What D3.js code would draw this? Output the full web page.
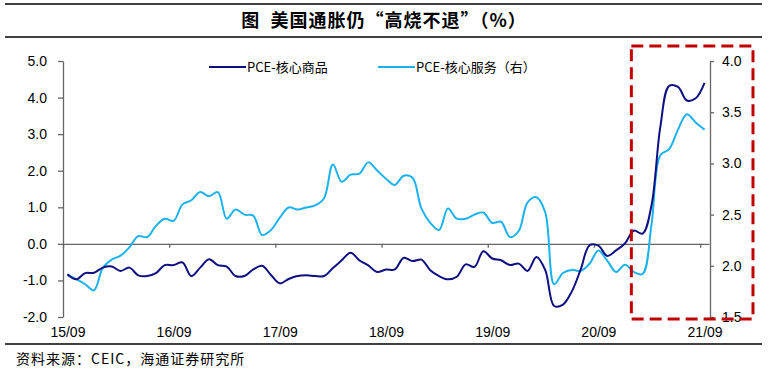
<!DOCTYPE html>
<html>
<head>
<meta charset="utf-8">
<script src="https://cdn.jsdelivr.net/npm/d3@7"></script>
<style>
  body { margin: 0; background: #fff; }
  svg { display: block; }
</style>
</head>
<body>
<div id="chart"></div>
<script>
const width = 783;
const height = 373;

// monthly data 2015/09 - 2021/09
const months = d3.timeMonth.range(new Date(2015, 8, 1), new Date(2021, 9, 1));
const tickLabels = ["15/09", "16/09", "17/09", "18/09", "19/09", "20/09", "21/09"];
const seriesNames = ["PCE-核心商品", "PCE-核心服务（右）"];
const leftTicks = [-2, -1, 0, 1, 2, 3, 4, 5];
const rightTicks = [1.5, 2.0, 2.5, 3.0, 3.5, 4.0];

// PCE core goods, yoy % (left axis)
const goods = [
  -0.83, -0.97, -0.80, -0.79, -0.65, -0.62, -0.74, -0.65, -0.86, -0.88,
  -0.80, -0.58, -0.58, -0.51, -0.88, -0.65, -0.42, -0.58, -0.62, -0.88,
  -0.88, -0.70, -0.60, -0.85, -1.08, -0.96, -0.88, -0.86, -0.88, -0.88,
  -0.66, -0.45, -0.24, -0.45, -0.59, -0.77, -0.70, -0.70, -0.38, -0.47,
  -0.43, -0.72, -0.88, -0.97, -0.90, -0.56, -0.63, -0.20, -0.40, -0.45,
  -0.58, -0.54, -0.74, -0.36, -0.72, -1.70, -1.66, -1.30, -0.70, -0.04,
  -0.05, -0.33, -0.18, 0.01, 0.36, 0.28, 1.05, 3.20, 4.32, 4.29,
  3.92, 3.98, 4.40
];

// PCE core services, yoy % (right axis)
const services = [
  1.91, 1.87, 1.82, 1.76, 1.98, 2.06, 2.10, 2.18, 2.29, 2.28,
  2.39, 2.46, 2.44, 2.60, 2.64, 2.72, 2.68, 2.72, 2.46, 2.55,
  2.50, 2.49, 2.30, 2.35, 2.47, 2.57, 2.55, 2.57, 2.59, 2.66,
  2.99, 2.82, 2.89, 2.90, 3.01, 2.93, 2.85, 2.79, 2.88, 2.86,
  2.56, 2.42, 2.35, 2.56, 2.46, 2.46, 2.50, 2.52, 2.42, 2.43,
  2.28, 2.34, 2.62, 2.67, 2.52, 1.82, 1.93, 1.96, 1.95, 2.02,
  2.15, 2.05, 1.94, 2.01, 1.94, 1.92, 2.40, 3.08, 3.14, 3.33,
  3.48, 3.40, 3.33
];

const darkBlue = "#0f0f82";
const lightBlue = "#1cb2ee";
const axisColor = "#666";
const numFont = "'Liberation Sans', Arial, sans-serif";
const cjkFont = "'Noto Sans CJK SC', sans-serif";

const plot = { left: 63, right: 709, top: 61, bottom: 317 };

const x = d3.scaleLinear().domain([0, months.length]).range([plot.left, plot.right]);
const yL = d3.scaleLinear().domain([-2, 5]).range([plot.bottom, plot.top]);
const yR = d3.scaleLinear().domain([1.5, 4]).range([plot.bottom, plot.top]);

const svg = d3.select("#chart").append("svg")
  .attr("width", width)
  .attr("height", height);

// title and rules
svg.append("line").attr("x1", 5).attr("x2", 762).attr("y1", 4).attr("y2", 4)
  .attr("stroke", "#000").attr("stroke-width", 1.5);
svg.append("line").attr("x1", 5).attr("x2", 762).attr("y1", 37).attr("y2", 37)
  .attr("stroke", "#000").attr("stroke-width", 1.5);
svg.append("text")
  .attr("x", 384).attr("y", 27)
  .attr("text-anchor", "middle")
  .style("font-family", cjkFont)
  .style("font-weight", "bold")
  .style("font-size", "18px")
  .style("letter-spacing", "1px")
  .style("white-space", "pre")
  .text("图  美国通胀仍“高烧不退”（%）");

// left axis
const gL = svg.append("g")
  .attr("transform", "translate(" + plot.left + ",0)")
  .call(d3.axisLeft(yL).tickValues(leftTicks).tickFormat(d => d.toFixed(1))
    .tickSize(5).tickSizeOuter(0).tickPadding(11));

// right axis
const gR = svg.append("g")
  .attr("transform", "translate(" + (plot.right + 1) + ",0)")
  .call(d3.axisRight(yR).tickValues(rightTicks).tickFormat(d => d.toFixed(1))
    .tickSize(4).tickSizeOuter(0).tickPadding(8));

// zero line with year ticks
const gZ = svg.append("g")
  .attr("transform", "translate(0," + yL(0) + ")")
  .call(d3.axisBottom(x).tickValues(d3.range(0, months.length, 12))
    .tickFormat("").tickSize(4).tickSizeOuter(0));

// x labels at the bottom
const gX = svg.append("g")
  .attr("transform", "translate(0," + plot.bottom + ")")
  .call(d3.axisBottom(x).tickValues(d3.range(0, months.length, 12).map(i => i + 0.5))
    .tickFormat(d => tickLabels[(d - 0.5) / 12]).tickSize(0).tickPadding(10));
gX.select(".domain").remove();

[gL, gR, gZ, gX].forEach(g => {
  g.selectAll("path, line").attr("stroke", axisColor).attr("stroke-width", 1.3);
  g.selectAll("text")
    .attr("fill", "#000")
    .style("font-family", numFont)
    .style("font-size", "14px");
});

// lines
const lineL = d3.line()
  .x((d, i) => x(i + 0.5))
  .y(d => yL(d))
  .curve(d3.curveCatmullRom);
const lineR = d3.line()
  .x((d, i) => x(i + 0.5))
  .y(d => yR(d))
  .curve(d3.curveCatmullRom);

svg.append("path")
  .datum(services)
  .attr("d", lineR)
  .attr("fill", "none")
  .attr("stroke", lightBlue)
  .attr("stroke-width", 2);

svg.append("path")
  .datum(goods)
  .attr("d", lineL)
  .attr("fill", "none")
  .attr("stroke", darkBlue)
  .attr("stroke-width", 2);

// highlight box
svg.append("rect")
  .attr("x", x(64) + 2)
  .attr("y", yR(4) - 15)
  .attr("width", 753 - (x(64) + 2))
  .attr("height", yL(-2) + 2 - (yR(4) - 15))
  .attr("fill", "none")
  .attr("stroke", "#c00000")
  .attr("stroke-width", 3)
  .attr("stroke-dasharray", "12,6");

// legend
const legend = [
  { name: seriesNames[0], color: darkBlue, x: 209 },
  { name: seriesNames[1], color: lightBlue, x: 378 }
];
const lg = svg.selectAll(".legend").data(legend).enter().append("g")
  .attr("class", "legend")
  .attr("transform", d => "translate(" + d.x + ",67)");
lg.append("line").attr("x1", 0).attr("x2", 37).attr("y1", 0).attr("y2", 0)
  .attr("stroke", d => d.color).attr("stroke-width", 2);
lg.append("text").attr("x", 38).attr("y", 4.5)
  .style("font-family", cjkFont)
  .style("font-size", "13px")
  .text(d => d.name);

// source
svg.append("line").attr("x1", 5).attr("x2", 762).attr("y1", 344).attr("y2", 344)
  .attr("stroke", "#000").attr("stroke-width", 1.5);
svg.append("text")
  .attr("x", 16).attr("y", 364)
  .style("font-family", cjkFont)
  .style("font-size", "14px")
  .style("letter-spacing", "1px")
  .text("资料来源：CEIC，海通证券研究所");
</script>
</body>
</html>
